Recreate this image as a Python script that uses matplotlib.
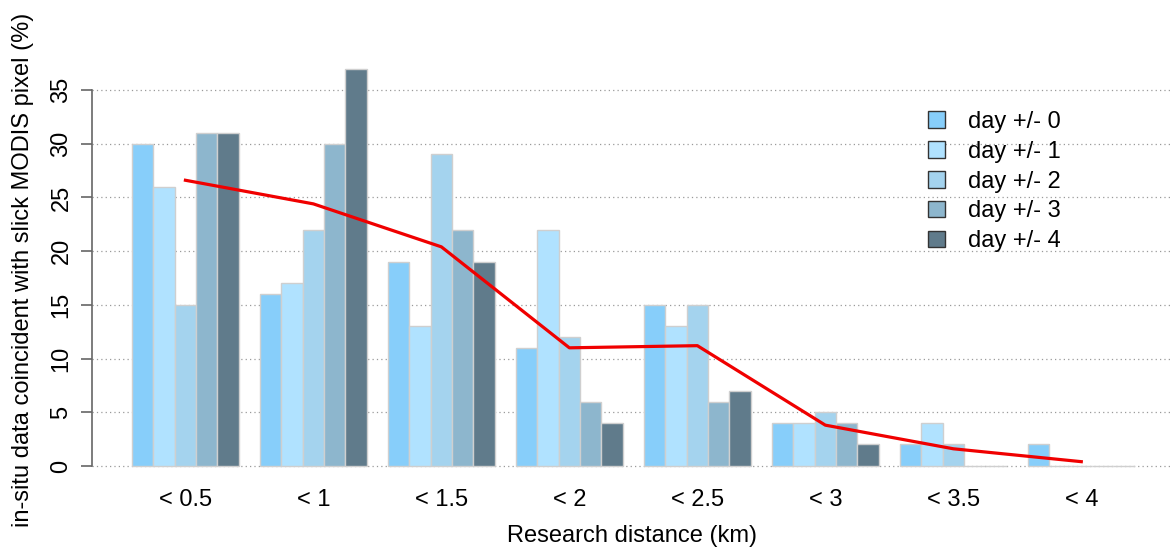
import numpy as np
import matplotlib.pyplot as plt
from matplotlib.patches import Patch

plt.rcParams['font.family'] = ['Liberation Sans', 'DejaVu Sans']

# distance classes and coincidence percentages per time window
categories = ['< 0.5', '< 1', '< 1.5', '< 2', '< 2.5', '< 3', '< 3.5', '< 4']
series_names = ['day +/- 0', 'day +/- 1', 'day +/- 2', 'day +/- 3', 'day +/- 4']
day0 = [30, 16, 19, 11, 15, 4, 2, 2]
day1 = [26, 17, 13, 22, 13, 4, 4, 0]
day2 = [15, 22, 29, 12, 15, 5, 2, 0]
day3 = [31, 30, 22, 6, 6, 4, 0, 0]
day4 = [31, 37, 19, 4, 7, 2, 0, 0]
mean_line = [26.6, 24.4, 20.4, 11.0, 11.2, 3.8, 1.6, 0.4]

colors = ['#87CEFA', '#B0E2FF', '#A4D3EE', '#8DB6CD', '#607B8B']

fig = plt.figure(figsize=(11.72, 5.52), dpi=100)
W, H = 1172, 552
ax = fig.add_axes([92 / W, (H - 481) / H, (W - 92) / W, 406 / H])

# R-style barplot: each group = 1 unit gap + 5 bars of width 1
n_groups = len(categories)
series = [day0, day1, day2, day3, day4]
starts = 1 + 6 * np.arange(n_groups)
for k, vals in enumerate(series):
    ax.bar(starts + k, vals, width=1, align='edge', color=colors[k],
           edgecolor='#CFCFCF', linewidth=1, zorder=2, clip_on=False)

centers = starts + 2.5
ax.plot(centers, mean_line, color='#F00000', linewidth=2.3, zorder=3)

# dotted grid
for yv in range(0, 40, 5):
    ax.axhline(yv, color='#9A9A9A', linestyle=(0, (1, 2.5)), linewidth=0.9, zorder=0)

ax.set_xlim(-0.88, -0.88 + 1080 / 21.33)
ax.set_ylim(-1.4, 36.4)

for s in ['top', 'right', 'bottom']:
    ax.spines[s].set_visible(False)
ax.spines['left'].set_bounds(0, 35)
ax.spines['left'].set_color('#666666')
ax.spines['left'].set_linewidth(1.2)

fs = 17
ax.set_yticks(range(0, 40, 5))
ax.tick_params(axis='y', length=8, width=1.2, color='#666666', labelsize=fs,
               labelrotation=90, pad=6)
for lab in ax.get_yticklabels():
    lab.set_va('center')
ax.set_xticks(centers)
ax.set_xticklabels(categories)
ax.tick_params(axis='x', length=0, labelsize=fs, pad=6)

ax.set_xlabel('Research distance (km)', fontsize=fs, labelpad=10)
ax.set_ylabel('in-situ data coincident with slick MODIS pixel (%)', fontsize=fs,
              labelpad=12, y=0.52)

handles = [Patch(facecolor=c, edgecolor='#333333', linewidth=1) for c in colors]
fig.legend(handles, series_names, loc='upper left',
           bbox_to_anchor=(928 / W, (H - 111) / H), frameon=False, fontsize=fs,
           handlelength=0.7, handleheight=0.7, handletextpad=1.0,
           labelspacing=0.33, borderpad=0, borderaxespad=0)

fig.savefig('out.png', dpi=100)
